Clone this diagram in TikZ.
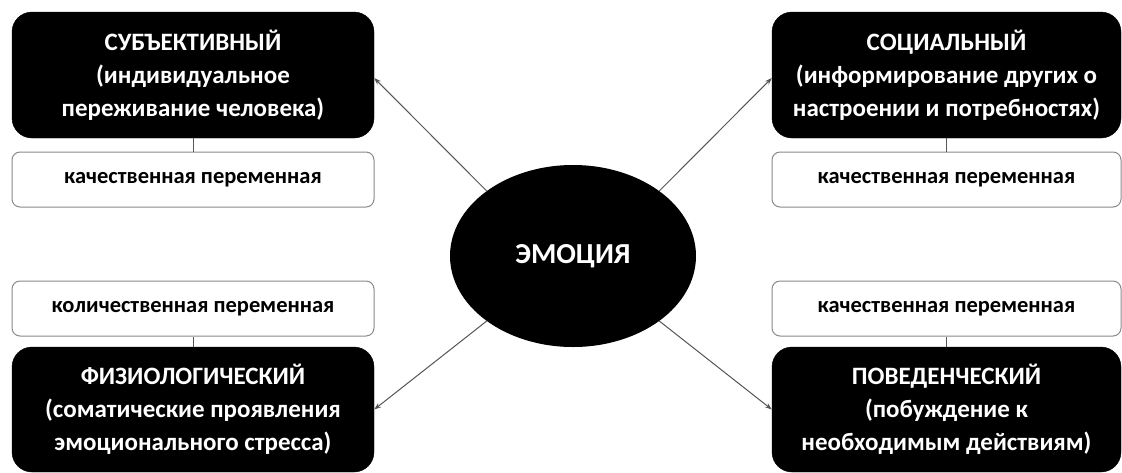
\documentclass[tikz,border=0pt]{standalone}
\usepackage{fontspec}
\setmainfont{Carlito}
\usetikzlibrary{arrows.meta,shapes.geometric}
\definecolor{linegray}{HTML}{555555}
\definecolor{boxgray}{HTML}{8A8A8A}
\tikzset{
  blackbox/.style={draw=black, fill=black, rounded corners=20pt, text=white,
    font=\bfseries\fontsize{25}{33}\selectfont, align=center, inner sep=0pt,
    minimum height=126pt},
  varbox/.style={draw=boxgray, line width=1pt, fill=white, rounded corners=8pt,
    font=\bfseries\fontsize{22.5}{26}\selectfont, inner sep=0pt, minimum height=55pt},
  link/.style={draw=linegray, line width=1pt},
  arr/.style={draw=linegray, line width=1pt, -{Stealth[length=7pt,width=5pt]}},
}
\begin{document}
\begin{tikzpicture}[x=1pt,y=-1pt]
\useasboundingbox (0,0) rectangle (1122,472);
\fill[white] (0,0) rectangle (1122,472);
% left top
\node[blackbox, minimum width=362pt] (tl) at (193,75) {СУБЪЕКТИВНЫЙ\\(индивидуальное\\переживание человека)};
\node[varbox, minimum width=362pt] (tlv) at (193,179.5) {качественная переменная};
% right top
\node[blackbox, minimum width=349pt] (tr) at (946.5,75) {СОЦИАЛЬНЫЙ\\(информирование других о\\настроении и потребностях)};
\node[varbox, minimum width=349pt] (trv) at (946.5,179.5) {качественная переменная};
% left bottom
\node[varbox, minimum width=362pt] (blv) at (193,308.5) {количественная переменная};
\node[blackbox, minimum width=362pt, minimum height=125pt] (bl) at (193,409.5) {ФИЗИОЛОГИЧЕСКИЙ\\(соматические проявления\\эмоционального стресса)};
% right bottom
\node[varbox, minimum width=349pt] (brv) at (946.5,308.5) {качественная переменная};
\node[blackbox, minimum width=349pt, minimum height=125pt] (br) at (946.5,409.5) {ПОВЕДЕНЧЕСКИЙ\\(побуждение к\\необходимым действиям)};
% center
\node[ellipse, fill=black, text=white, minimum width=246pt, minimum height=182pt, inner sep=0pt,
  font=\bfseries\fontsize{29}{33}\selectfont] (em) at (573,256) {ЭМОЦИЯ};
% links
\draw[link] (tl) -- (tlv);
\draw[link] (tr) -- (trv);
\draw[link] (bl) -- (blv);
\draw[link] (br) -- (brv);
% arrows
\draw[arr] (em.143) -- ([yshift=-3pt]tl.east);
\draw[arr] (em.37) -- ([yshift=-3pt]tr.west);
\draw[arr] (em.217) -- (bl.east);
\draw[arr] (em.323) -- (br.west);
\end{tikzpicture}
\end{document}
